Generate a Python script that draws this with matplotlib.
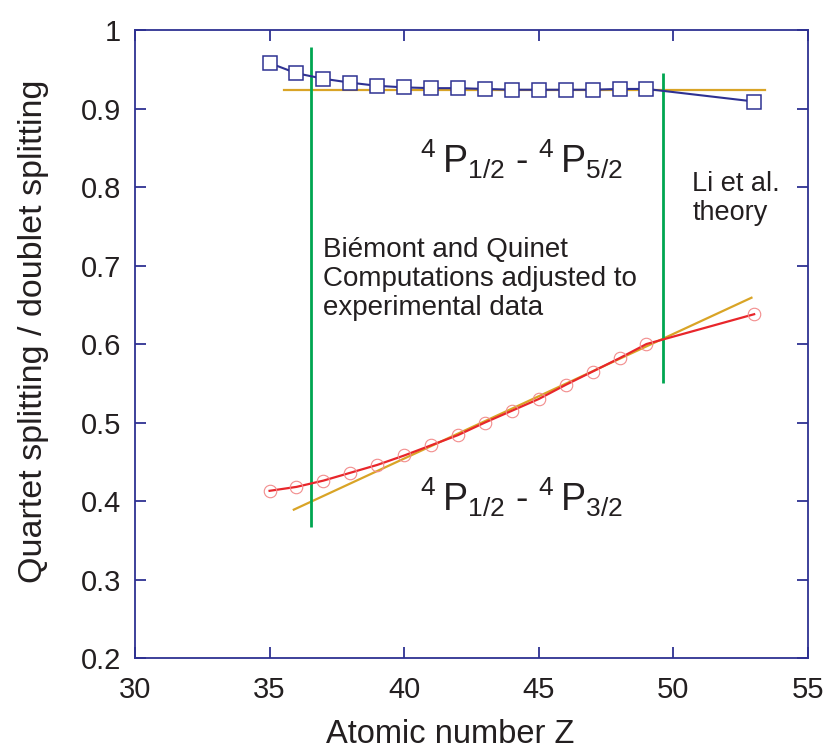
import numpy as np
import matplotlib
matplotlib.use("Agg")
import matplotlib.pyplot as plt

plt.rcParams['font.family'] = ['Liberation Sans', 'DejaVu Sans']
plt.rcParams['mathtext.default'] = 'regular'

# Atomic numbers of the computed points
z = [35, 36, 37, 38, 39, 40, 41, 42, 43, 44, 45, 46, 47, 48, 49, 53]

# 4P1/2 - 4P5/2 ratio (squares)
ratio_52 = [0.958, 0.945, 0.938, 0.933, 0.929, 0.927, 0.926, 0.926,
            0.925, 0.924, 0.924, 0.924, 0.924, 0.925, 0.925, 0.909]

# 4P1/2 - 4P3/2 ratio (circles)
ratio_32 = [0.413, 0.418, 0.426, 0.436, 0.446, 0.458, 0.471, 0.484,
            0.500, 0.515, 0.530, 0.548, 0.565, 0.582, 0.600, 0.638]

# straight reference lines (orange)
flat_z = [35.55, 53.4]
flat_y = [0.924, 0.924]
slope_z = [35.9, 52.9]
slope_y = [0.389, 0.659]

# vertical separators (green): x, ymin, ymax
sep_left = (36.55, 0.367, 0.978)
sep_right = (49.6, 0.551, 0.945)

navy = '#2E3192'
red = '#E8262B'
pink = '#F28C8C'
gold = '#D9A426'
green = '#00A651'
ink = '#231F20'

fig = plt.figure(figsize=(8.25, 7.52), dpi=100)
ax = fig.add_axes([0.1636, 0.125, 0.8158, 0.835])

ax.plot(flat_z, flat_y, color=gold, lw=1.6, zorder=2)
ax.plot(slope_z, slope_y, color=gold, lw=1.6, zorder=2)

ax.vlines(sep_left[0], sep_left[1], sep_left[2], color=green, lw=2, zorder=3)
ax.vlines(sep_right[0], sep_right[1], sep_right[2], color=green, lw=2, zorder=3)

ax.plot(z, ratio_52, color=navy, lw=1.5, zorder=4)
ax.plot(z, ratio_52, 's', ms=9.5, mfc='white', mec=navy, mew=1.1, zorder=5)

ax.plot(z, ratio_32, color=red, lw=1.6, zorder=4)
ax.plot(z, ratio_32, 'o', ms=9, mfc='none', mec=pink, mew=0.8, zorder=5)

ax.set_xlim(30, 55)
ax.set_ylim(0.2, 1.0)
ax.set_xticks([30, 35, 40, 45, 50, 55])
ax.set_yticks([0.2, 0.3, 0.4, 0.5, 0.6, 0.7, 0.8, 0.9, 1.0])
ax.set_yticklabels(['0.2', '0.3', '0.4', '0.5', '0.6', '0.7', '0.8', '0.9', '1'])

for s in ax.spines.values():
    s.set_color(navy)
    s.set_linewidth(1.3)
ax.tick_params(direction='in', length=8, width=1.3, color=navy,
               top=True, right=True, labelsize=21, labelcolor=ink)
ax.tick_params(axis='y', pad=10)
ax.tick_params(axis='x', pad=13)

ax.set_xlabel('Atomic number Z', fontsize=23.5, color=ink)
ax.set_ylabel('Quartet splitting / doublet splitting', fontsize=24.5, color=ink)
ax.xaxis.set_label_coords(0.468, -0.097)
ax.yaxis.set_label_coords(-0.128, 0.52)

ax.text(40.6, 0.836, r'$^4\,P_{1/2}$ - $^4\,P_{5/2}$', fontsize=27, color=ink,
        ha='left', va='center')
ax.text(40.6, 0.405, r'$^4\,P_{1/2}$ - $^4\,P_{3/2}$', fontsize=27, color=ink,
        ha='left', va='center')
ax.text(50.7, 0.786, 'Li et al.\ntheory', fontsize=19.5, color=ink,
        ha='left', va='center', linespacing=1.15)
ax.text(37.0, 0.683, 'Biémont and Quinet\nComputations adjusted to\nexperimental data',
        fontsize=20, color=ink, ha='left', va='center', linespacing=1.15)

fig.savefig('out.png', dpi=100)
